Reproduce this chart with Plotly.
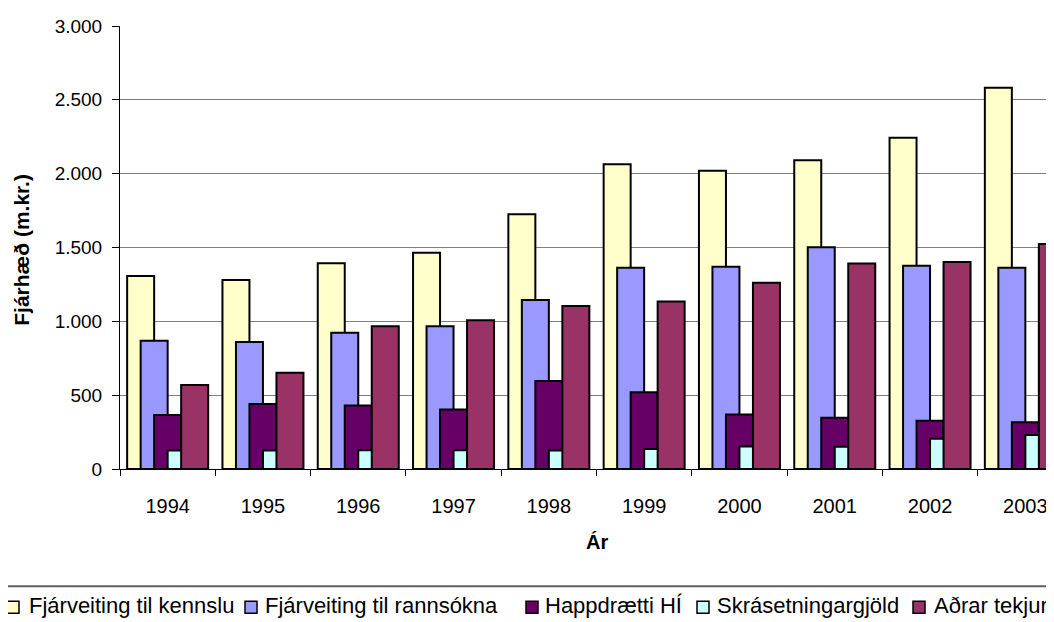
import plotly.graph_objects as go

years = ["1994", "1995", "1996", "1997", "1998", "1999", "2000", "2001", "2002", "2003"]
kennsla = [1307, 1280, 1394, 1464, 1726, 2063, 2019, 2091, 2243, 2581]
rannsoknir = [869, 860, 922, 967, 1144, 1363, 1369, 1502, 1376, 1363]
happdraetti = [366, 440, 430, 403, 596, 519, 369, 347, 327, 316]
skrasetning = [125, 125, 127, 127, 125, 135, 152, 150, 205, 230]
adrar = [569, 652, 967, 1008, 1103, 1135, 1261, 1392, 1401, 1523]

series_names = ["Fjárveiting til kennslu", "Fjárveiting til rannsókna", "Happdrætti HÍ",
                "Skrásetningargjöld", "Aðrar tekjur"]
series_values = [kennsla, rannsoknir, happdraetti, skrasetning, adrar]
colors = ["#FFFFCC", "#9999FF", "#660066", "#CCFFFF", "#993366"]

y_tickvals = [0, 500, 1000, 1500, 2000, 2500, 3000]
y_ticktext = ["0", "500", "1.000", "1.500", "2.000", "2.500", "3.000"]

FONT = "Liberation Sans, Arial, sans-serif"
OFF = 8  # page body margin
W, H = 1054 - OFF, 622 - OFF
L = 120 - OFF
T = 26 - OFF
BOTTOM = 469.5 - OFF
B = H - BOTTOM
plot_w = W - L
plot_h = BOTTOM - T
cat_px = 95.3

xpos = list(range(len(years)))
bar_w = 27.0 / cat_px
step = bar_w / 2
start = -(4 * step + bar_w) / 2

fig = go.Figure()
for i, (name, vals, col) in enumerate(zip(series_names, series_values, colors)):
    fig.add_trace(go.Bar(
        x=xpos, y=vals, name=name,
        width=bar_w, offset=start + i * step,
        marker=dict(color=col, line=dict(color="black", width=2)),
        showlegend=False,
    ))


def px_x(p):
    return (p - OFF - L) / plot_w


def px_y(p):
    return (BOTTOM - (p - OFF)) / plot_h


x_right = -0.5 + plot_w / cat_px

# manual legend (reference pixel positions)
legend_sq_left = [7, 245, 526, 697, 913]
legend_txt_left = [27, 263, 543, 715, 932]
shapes = [
    dict(type="line", xref="paper", yref="paper", x0=px_x(0), x1=px_x(1054),
         y0=px_y(587), y1=px_y(587), line=dict(color="#606060", width=2)),
]
annotations = [
    dict(text="<b>Fjárhæð (m.kr.)</b>", textangle=-90, xref="paper", yref="paper",
         x=px_x(22), y=px_y(250), xanchor="center", yanchor="middle",
         showarrow=False, font=dict(size=21, family=FONT)),
    dict(text="<b>Ár</b>", xref="paper", yref="paper",
         x=px_x(597), y=px_y(543), xanchor="center", yanchor="middle",
         showarrow=False, font=dict(size=20, family=FONT)),
]
for name, col, sq, tx in zip(series_names, colors, legend_sq_left, legend_txt_left):
    shapes.append(dict(type="rect", xref="paper", yref="paper",
                       x0=px_x(sq), x1=px_x(sq + 12), y0=px_y(602), y1=px_y(614),
                       fillcolor=col, line=dict(color="black", width=1.5)))
    annotations.append(dict(text=name, xref="paper", yref="paper",
                            x=px_x(tx), y=px_y(606), xanchor="left", yanchor="middle",
                            showarrow=False, font=dict(size=22, family=FONT)))

fig.update_layout(
    width=W, height=H, autosize=False,
    barmode="overlay",
    margin=dict(l=L, r=0, t=T, b=B, pad=0),
    paper_bgcolor="white", plot_bgcolor="white",
    font=dict(family=FONT, color="black", size=20),
    showlegend=False,
    xaxis=dict(
        range=[-0.5, x_right],
        tickmode="array", tickvals=xpos, ticktext=years,
        ticks="outside", ticklen=19, tickcolor="rgba(0,0,0,0)",
        tickfont=dict(size=20, family=FONT),
        showline=True, linecolor="black", linewidth=1,
        showgrid=False, zeroline=False,
        minor=dict(tickmode="array", tickvals=[v - 0.5 for v in xpos] + [len(years) - 0.5],
                   ticks="outside", ticklen=6, tickcolor="black", tickwidth=1, showgrid=False),
    ),
    yaxis=dict(
        range=[0, 3000],
        tickmode="array", tickvals=y_tickvals, ticktext=y_ticktext,
        ticks="outside", ticklen=7, tickcolor="black", ticklabelstandoff=6,
        tickfont=dict(size=19, family=FONT),
        showline=True, linecolor="black", linewidth=1,
        showgrid=True, gridcolor="#808080", gridwidth=1,
        zeroline=False,
    ),
    annotations=annotations,
    shapes=shapes,
)

fig.write_html("out.html")
